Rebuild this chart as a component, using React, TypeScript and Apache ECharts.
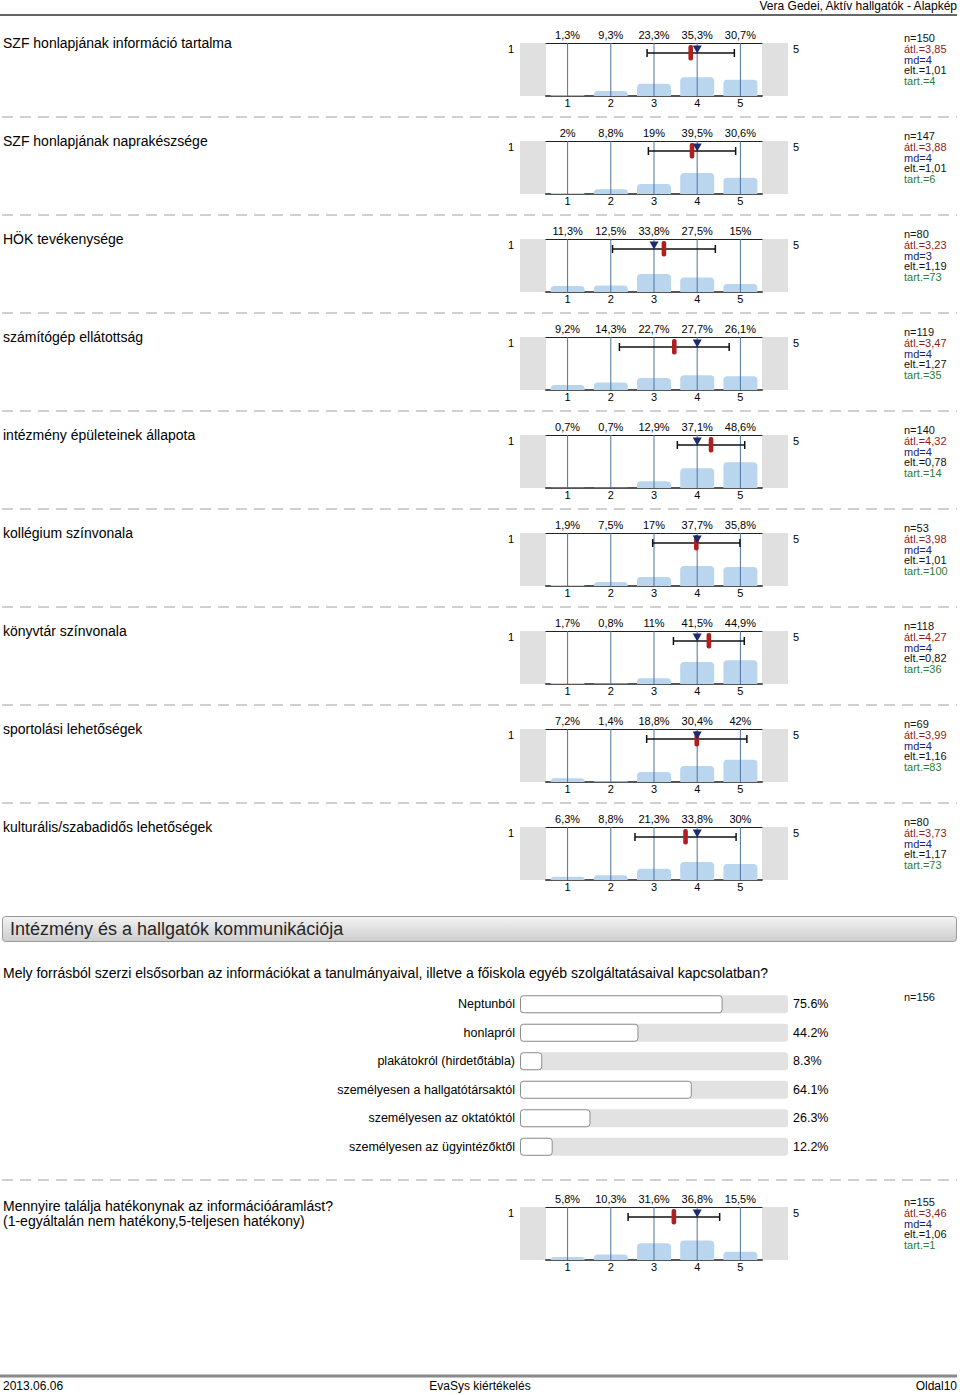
import React, { useEffect, useRef } from "react";
import * as echarts from "echarts";

// ---------- DATA ----------
const headerText = "Vera Gedei, Aktív hallgatók - Alapkép";
const footerLeft = "2013.06.06";
const footerCenter = "EvaSys kiértékelés";
const footerRight = "Oldal10";

const scaleCategories = ["1", "2", "3", "4", "5"];

const questionLabels = [
  ["SZF honlapjának információ tartalma"],
  ["SZF honlapjának naprakészsége"],
  ["HÖK tevékenysége"],
  ["számítógép ellátottság"],
  ["intézmény épületeinek állapota"],
  ["kollégium színvonala"],
  ["könyvtár színvonala"],
  ["sportolási lehetőségek"],
  ["kulturális/szabadidős lehetőségek"],
  ["Mennyire találja hatékonynak az információáramlást?", "(1-egyáltalán nem hatékony,5-teljesen hatékony)"],
];

const percentages = [
  [1.3, 9.3, 23.3, 35.3, 30.7],
  [2, 8.8, 19, 39.5, 30.6],
  [11.3, 12.5, 33.8, 27.5, 15],
  [9.2, 14.3, 22.7, 27.7, 26.1],
  [0.7, 0.7, 12.9, 37.1, 48.6],
  [1.9, 7.5, 17, 37.7, 35.8],
  [1.7, 0.8, 11, 41.5, 44.9],
  [7.2, 1.4, 18.8, 30.4, 42],
  [6.3, 8.8, 21.3, 33.8, 30],
  [5.8, 10.3, 31.6, 36.8, 15.5],
];

const counts = [150, 147, 80, 119, 140, 53, 118, 69, 80, 155];
const means = [3.85, 3.88, 3.23, 3.47, 4.32, 3.98, 4.27, 3.99, 3.73, 3.46];
const medians = [4, 4, 3, 4, 4, 4, 4, 4, 4, 4];
const deviations = [1.01, 1.01, 1.19, 1.27, 0.78, 1.01, 0.82, 1.16, 1.17, 1.06];
const abstentions = [4, 6, 73, 35, 14, 100, 36, 83, 73, 1];

const sectionTitle = "Intézmény és a hallgatók kommunikációja";
const sourceQuestion =
  "Mely forrásból szerzi elsősorban az információkat a tanulmányaival, illetve a főiskola egyéb szolgáltatásaival kapcsolatban?";
const sourceLabels = [
  "Neptunból",
  "honlapról",
  "plakátokról (hirdetőtábla)",
  "személyesen a hallgatótársaktól",
  "személyesen az oktatóktól",
  "személyesen az ügyintézőktől",
];
const sourceValues = [75.6, 44.2, 8.3, 64.1, 26.3, 12.2];
const sourceN = 156;

// ---------- LAYOUT ----------
const FONT = '"Liberation Sans", Arial, Helvetica, sans-serif';
const blockTops = questionLabels.map((_, i) => (i < 9 ? 43 + 98 * i : 1207));
const GRID_LEFT = 546;
const GRID_W = 216;
const GRID_H = 53;

const hu = (v: number) => String(v).replace(".", ",");

function txt(text: string, x: number, y: number, size: number, fill = "#000", align = "left", extra: any = {}) {
  return {
    type: "text",
    silent: true,
    style: {
      text,
      x,
      y,
      fill,
      fontSize: size,
      fontFamily: FONT,
      align,
      verticalAlign: "middle",
      ...extra,
    },
  };
}

function buildOption() {
  const grid: any[] = [];
  const xAxis: any[] = [];
  const yAxis: any[] = [];
  const series: any[] = [];
  const graphic: any[] = [];

  // header
  graphic.push(txt(headerText, 957, 6, 12, "#000", "right"));
  graphic.push({
    type: "line",
    silent: true,
    shape: { x1: 0, y1: 15, x2: 957, y2: 15 },
    style: { stroke: "#333", lineWidth: 1.5 },
  });

  blockTops.forEach((top, b) => {
    const pct = percentages[b];
    grid.push({ left: GRID_LEFT, top, width: GRID_W, height: GRID_H });
    xAxis.push({
      type: "category",
      gridIndex: b,
      position: "bottom",
      data: scaleCategories,
      axisLine: { lineStyle: { color: "#555", width: 2 } },
      axisTick: { show: false },
      splitLine: { show: false },
      axisLabel: { fontSize: 11, color: "#000", margin: 1, fontFamily: FONT },
    });
    xAxis.push({
      type: "category",
      gridIndex: b,
      position: "top",
      data: pct.map((v) => hu(v) + "%"),
      axisLine: { lineStyle: { color: "#222", width: 1 } },
      axisTick: { show: false },
      splitLine: { show: false },
      axisLabel: { fontSize: 11, color: "#000", margin: 3, fontFamily: FONT },
    });
    xAxis.push({ type: "value", gridIndex: b, min: 0.5, max: 5.5, show: false });
    yAxis.push({ type: "value", gridIndex: b, min: 0, max: 100, show: false });

    series.push({
      type: "bar",
      xAxisIndex: 3 * b,
      yAxisIndex: b,
      data: pct,
      barWidth: 34,
      itemStyle: { color: "#bad5ee", borderRadius: [4, 4, 0, 0] },
      z: 2,
      silent: true,
    });
    series.push({
      type: "custom",
      xAxisIndex: 3 * b + 2,
      yAxisIndex: b,
      data: scaleCategories.map((c) => [Number(c), 0]),
      encode: { x: 0, y: 1 },
      z: 3,
      silent: true,
      renderItem: (params: any, api: any) => {
        const cs = params.coordSys;
        const x = api.coord([api.value(0), 0])[0];
        return {
          type: "line",
          shape: { x1: x, y1: cs.y, x2: x, y2: cs.y + cs.height },
          style: { stroke: "#4d73a0", lineWidth: 1 },
        };
      },
    });
    series.push({
      type: "custom",
      xAxisIndex: 3 * b + 2,
      yAxisIndex: b,
      data: [[means[b], 0, medians[b], deviations[b]]],
      encode: { x: 0, y: 1 },
      z: 4,
      silent: true,
      renderItem: (params: any, api: any) => {
        const cs = params.coordSys;
        const t = cs.y;
        const mean = api.value(0);
        const md = api.value(2);
        const sd = api.value(3);
        const xm = api.coord([mean, 0])[0];
        const xd = api.coord([md, 0])[0];
        const xl = api.coord([mean - sd, 0])[0];
        const xr = api.coord([mean + sd, 0])[0];
        const ey = t + 10;
        const ls = { stroke: "#111", lineWidth: 1.5 };
        return {
          type: "group",
          children: [
            { type: "line", shape: { x1: xl, y1: ey, x2: xr, y2: ey }, style: ls },
            { type: "line", shape: { x1: xl, y1: ey - 4, x2: xl, y2: ey + 4 }, style: ls },
            { type: "line", shape: { x1: xr, y1: ey - 4, x2: xr, y2: ey + 4 }, style: ls },
            {
              type: "rect",
              shape: { x: xm - 2.3, y: t + 2, width: 4.6, height: 15.5, r: 2 },
              style: { fill: "#b01f1f" },
            },
            {
              type: "polygon",
              shape: { points: [[xd - 4.5, t + 2.5], [xd + 4.5, t + 2.5], [xd, t + 10.5]] },
              style: { fill: "#1b2a75" },
            },
          ],
        };
      },
    });

    // question label
    questionLabels[b].forEach((line, li) => {
      graphic.push(txt(line, 3, top - 1 + li * 15 + (b < 9 ? 1 : 0), 14));
    });
    // side boxes
    graphic.push({
      type: "rect",
      silent: true,
      shape: { x: 520, y: top, width: 26, height: GRID_H },
      style: { fill: "#e0e0e0" },
    });
    graphic.push({
      type: "rect",
      silent: true,
      shape: { x: 762, y: top, width: 26, height: GRID_H },
      style: { fill: "#e0e0e0" },
    });
    graphic.push(txt(scaleCategories[0], 511, top + 6, 11, "#000", "center"));
    graphic.push(txt(scaleCategories[scaleCategories.length - 1], 796, top + 6, 11, "#000", "center"));
    // stats
    const stats: [string, string][] = [
      ["n=" + counts[b], "#111"],
      ["átl.=" + hu(means[b]), "#8b1c1c"],
      ["md=" + hu(medians[b]), "#1c2378"],
      ["elt.=" + hu(deviations[b]), "#111"],
      ["tart.=" + abstentions[b], "#2e7d32"],
    ];
    stats.forEach(([s, c], si) => {
      graphic.push(txt(s, 904, top - 5 + si * 10.75, 11, c));
    });
  });

  // dashed separators
  const dashYs = [117, 215, 313, 411, 509, 607, 705, 803, 1180];
  dashYs.forEach((y) => {
    graphic.push({
      type: "line",
      silent: true,
      shape: { x1: 2, y1: y, x2: 957, y2: y },
      style: { stroke: "#a0a0a0", lineWidth: 1, lineDash: [11, 7] },
    });
  });

  // section header
  graphic.push({
    type: "rect",
    silent: true,
    shape: { x: 2.5, y: 916.5, width: 954, height: 25, r: 3 },
    style: {
      fill: new echarts.graphic.LinearGradient(0, 0, 0, 1, [
        { offset: 0, color: "#f3f3f3" },
        { offset: 1, color: "#cdcdcd" },
      ]),
      stroke: "#9a9a9a",
      lineWidth: 1,
    },
  });
  graphic.push(txt(sectionTitle, 10, 929, 18, "#262626"));

  // multiple-choice question
  graphic.push(txt(sourceQuestion, 3, 973, 14));
  graphic.push(txt("n=" + sourceN, 904, 997, 11, "#111"));

  const hg = grid.length;
  grid.push({ left: 520, top: 990, width: 268, height: 171 });
  xAxis.push({ type: "value", gridIndex: hg, min: 0, max: 100, show: false });
  const hx = xAxis.length - 1;
  yAxis.push({
    type: "category",
    gridIndex: hg,
    inverse: true,
    data: sourceLabels,
    axisLine: { show: false },
    axisTick: { show: false },
    axisLabel: { fontSize: 12.5, color: "#000", margin: 5, fontFamily: FONT },
  });
  const hyL = yAxis.length - 1;
  yAxis.push({
    type: "category",
    gridIndex: hg,
    inverse: true,
    position: "right",
    data: sourceValues.map((v) => v.toFixed(1) + "%"),
    axisLine: { show: false },
    axisTick: { show: false },
    axisLabel: { fontSize: 12.5, color: "#000", margin: 5, fontFamily: FONT },
  });
  series.push({
    type: "bar",
    xAxisIndex: hx,
    yAxisIndex: hyL,
    data: sourceValues,
    barWidth: 18,
    showBackground: true,
    backgroundStyle: { color: "#e2e2e2", borderRadius: 3 },
    itemStyle: { color: "#ffffff", borderColor: "#8c8c8c", borderWidth: 1, borderRadius: 3 },
    silent: true,
  });

  // footer
  graphic.push({
    type: "line",
    silent: true,
    shape: { x1: 0, y1: 1376, x2: 957, y2: 1376 },
    style: { stroke: "#8a8a8a", lineWidth: 3 },
  });
  graphic.push(txt(footerLeft, 3, 1386, 12));
  graphic.push(txt(footerCenter, 480, 1386, 12, "#000", "center"));
  graphic.push(txt(footerRight, 957, 1386, 12, "#000", "right"));

  return {
    animation: false,
    backgroundColor: "#ffffff",
    textStyle: { fontFamily: FONT },
    grid,
    xAxis,
    yAxis,
    series,
    graphic,
  };
}

export default function App() {
  const ref = useRef<HTMLDivElement>(null);
  useEffect(() => {
    if (!ref.current) return;
    const chart = echarts.init(ref.current, null, { renderer: "svg" });
    chart.setOption(buildOption() as any);
    return () => chart.dispose();
  }, []);
  return (
    <div
      ref={ref}
      style={{ position: "absolute", left: 0, top: 0, width: 960, height: 1395, background: "#fff" }}
    />
  );
}
